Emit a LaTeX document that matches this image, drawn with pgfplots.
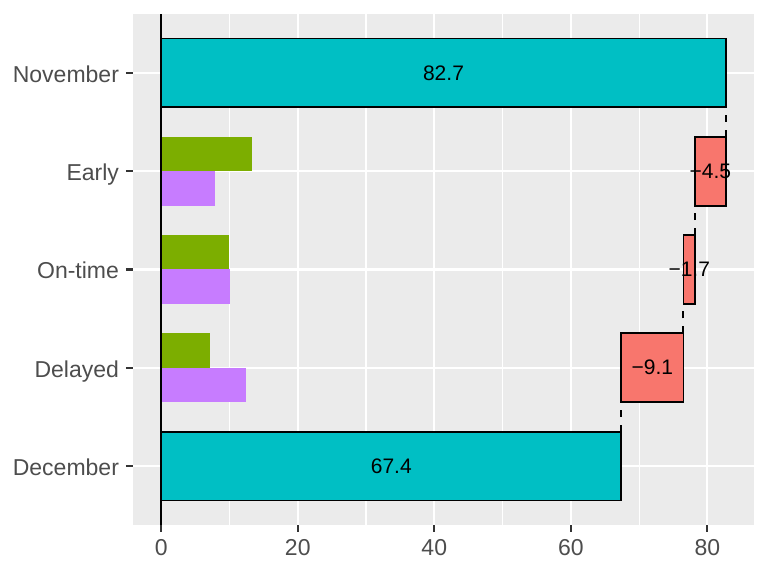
\documentclass[border=0pt]{standalone}
\usepackage{pgfplots}
\pgfplotsset{compat=1.18}
\usepackage{fontspec}
\setmainfont{Liberation Sans}
\definecolor{cyanb}{HTML}{00BFC4}
\definecolor{redb}{HTML}{F8766D}
\definecolor{greenb}{HTML}{7CAE00}
\definecolor{purpb}{HTML}{C77CFF}
\definecolor{panel}{HTML}{EBEBEB}
\definecolor{tickc}{HTML}{333333}
\definecolor{labc}{HTML}{4D4D4D}
\begin{document}
\begin{tikzpicture}
\begin{axis}[name=ax, scale only axis, width=310.5pt, height=255.5pt,
  xmin=-4.135, xmax=86.835, ymin=0.4, ymax=5.6,
  axis background/.style={fill=panel},
  axis line style={draw=none},
  xtick={0,20,40,60,80}, minor xtick={10,30,50,70},
  ytick={1,2,3,4,5}, yticklabels={December,Delayed,On-time,Early,November},
  xtick pos=left, ytick pos=left,
  tick align=outside, major tick length=3.5pt, minor tick length=0pt,
  tick style={color=tickc, line width=1.1pt},
  grid=both, major grid style={white, line width=1.1pt},
  minor grid style={white, line width=0.55pt},
  ticklabel style={color=labc, font=\fontsize{11.5}{13}\selectfont},
  yticklabel style={anchor=base east, yshift=-4.75pt},
  /pgf/number format/assume math mode=true,
]
% start/end bars
\addplot[fill=cyanb, draw=black, line width=0.9pt] coordinates {(0,4.65) (82.7,4.65) (82.7,5.35) (0,5.35)} -- cycle;
\addplot[fill=cyanb, draw=black, line width=0.9pt] coordinates {(0,0.65) (67.4,0.65) (67.4,1.35) (0,1.35)} -- cycle;
% change bars
\addplot[fill=redb, draw=black, line width=0.9pt] coordinates {(78.2,3.65) (82.7,3.65) (82.7,4.35) (78.2,4.35)} -- cycle;
\addplot[fill=redb, draw=black, line width=0.9pt] coordinates {(76.5,2.65) (78.2,2.65) (78.2,3.35) (76.5,3.35)} -- cycle;
\addplot[fill=redb, draw=black, line width=0.9pt] coordinates {(67.4,1.65) (76.5,1.65) (76.5,2.35) (67.4,2.35)} -- cycle;
% green / purple
\addplot[fill=greenb, draw=none] coordinates {(0,4) (13.3,4) (13.3,4.35) (0,4.35)} -- cycle;
\addplot[fill=purpb, draw=none] coordinates {(0,3.65) (7.9,3.65) (7.9,4) (0,4)} -- cycle;
\addplot[fill=greenb, draw=none] coordinates {(0,3) (10.0,3) (10.0,3.35) (0,3.35)} -- cycle;
\addplot[fill=purpb, draw=none] coordinates {(0,2.65) (10.1,2.65) (10.1,3) (0,3)} -- cycle;
\addplot[fill=greenb, draw=none] coordinates {(0,2) (7.2,2) (7.2,2.35) (0,2.35)} -- cycle;
\addplot[fill=purpb, draw=none] coordinates {(0,1.65) (12.4,1.65) (12.4,2) (0,2)} -- cycle;
% zero line
\addplot[black, line width=1.1pt] coordinates {(0,0.4) (0,5.6)};
% connectors
\addplot[black, line width=1pt, dash pattern=on 3.5pt off 4pt] coordinates {(82.7,4.35) (82.7,4.65)};
\addplot[black, line width=1pt, dash pattern=on 3.5pt off 4pt] coordinates {(78.2,3.35) (78.2,3.65)};
\addplot[black, line width=1pt, dash pattern=on 3.5pt off 4pt] coordinates {(76.5,2.35) (76.5,2.65)};
\addplot[black, line width=1pt, dash pattern=on 3.5pt off 4pt] coordinates {(67.4,1.35) (67.4,1.65)};
% labels
\addplot[draw=none, mark=none, nodes near coords, point meta=explicit symbolic,
  every node near coord/.append style={anchor=center, black, font=\fontsize{10.5}{12}\selectfont}]
  table[meta=lab] {
x y lab
41.35 5 82.7
80.45 4 −4.5
77.35 3 −1.7
71.95 2 −9.1
33.7 1 67.4
};
\end{axis}
\pgfresetboundingbox
\path ([shift={(-66.5pt,-25.5pt)}]ax.south west) rectangle ([shift={(7pt,7pt)}]ax.north east);
\end{tikzpicture}
\end{document}
